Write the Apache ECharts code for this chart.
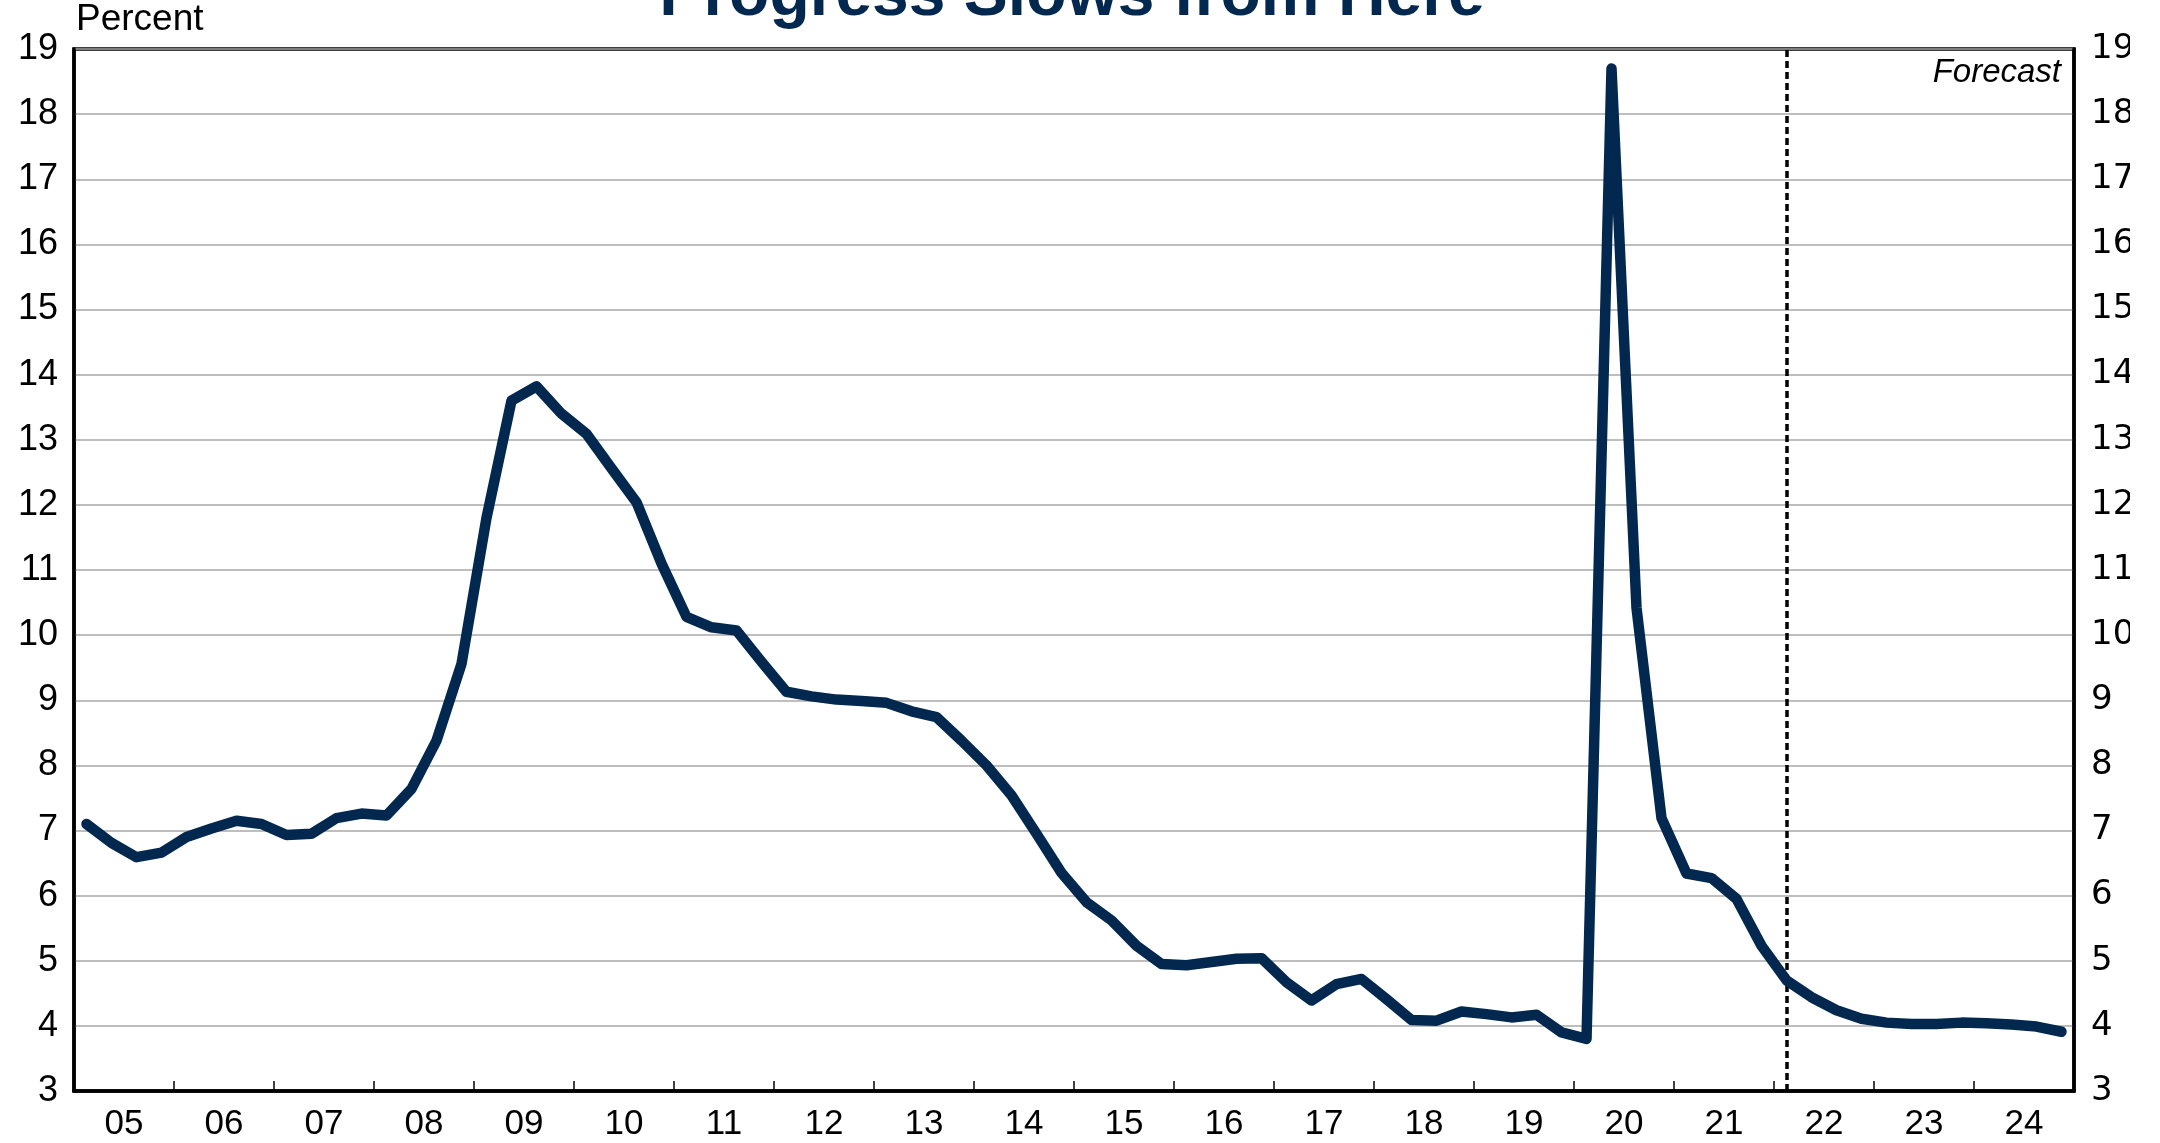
<!DOCTYPE html>
<html>
<head>
<meta charset="utf-8">
<script src="https://cdn.jsdelivr.net/npm/echarts/dist/echarts.min.js"></script>
<style>
  html, body { margin: 0; padding: 0; background: #ffffff; }
  #chart { width: 2130px; height: 1143px; }
</style>
</head>
<body>
<div id="chart"></div>
<script>
// Year tick labels along the bottom axis (one per calendar year)
const yearLabels = ['05','06','07','08','09','10','11','12','13','14',
                    '15','16','17','18','19','20','21','22','23','24'];

// Quarterly rate, percent, 2005Q1 .. 2024Q4
const rate = [
  7.10, 6.81, 6.59, 6.66,   6.90, 7.03, 7.15, 7.10,   6.93, 6.95, 7.19, 7.26,
  7.23, 7.64, 8.38, 9.56,   11.80, 13.60, 13.82, 13.40,
  13.09, 12.56, 12.04, 11.10,   10.28, 10.12, 10.07, 9.59,
  9.13, 9.06, 9.01, 8.99,   8.96, 8.83, 8.74, 8.38,   8.00, 7.54, 6.95, 6.35,
  5.90, 5.62, 5.23, 4.95,   4.93, 4.98, 5.03, 5.04,   4.67, 4.39, 4.64, 4.72,
  4.41, 4.09, 4.08, 4.22,   4.18, 4.13, 4.17, 3.90,
  3.80, 18.70, 10.42, 7.19,   6.34, 6.27, 5.95, 5.23,
  4.70, 4.44, 4.24, 4.11,   4.05, 4.03, 4.03, 4.05,   4.04, 4.02, 3.99, 3.91
];

// Value axis range and step
const yMin = 3, yMax = 19, yStep = 1;

// First projected quarter
const forecastStart = '22Q1';

const quarters = yearLabels.flatMap(y => ['Q1','Q2','Q3','Q4'].map(q => y + q));

const navy = '#03284f';
const leftFont = '"Liberation Sans", Arial, sans-serif';
const rightFont = '"DejaVu Sans", Verdana, sans-serif';

const chart = echarts.init(document.getElementById('chart'), null, { renderer: 'canvas' });

chart.setOption({
  backgroundColor: '#ffffff',
  animation: false,
  grid: {
    left: 74, top: 49, width: 2000, height: 1042,
    outerBoundsMode: 'none',
    containLabel: false,
    show: true, borderColor: '#000000', borderWidth: 3.5,
    backgroundColor: 'transparent'
  },
  xAxis: [
    {
      type: 'category', data: quarters, boundaryGap: true,
      show: false
    },
    {
      type: 'category', data: yearLabels, boundaryGap: true, position: 'bottom',
      axisLine: { show: true, lineStyle: { color: '#000000', width: 3.5 } },
      axisTick: { show: true, inside: true, length: 10, lineStyle: { color: '#000000', width: 1.5 } },
      axisLabel: { show: true, margin: 16, color: '#000000', fontSize: 35, fontFamily: leftFont },
      splitLine: { show: false }
    }
  ],
  yAxis: [
    {
      type: 'value', min: yMin, max: yMax, interval: yStep, position: 'left',
      axisLine: { show: true, lineStyle: { color: '#000000', width: 3.5 } },
      axisTick: { show: false },
      axisLabel: { margin: 16, color: '#000000', fontSize: 36, fontFamily: leftFont },
      splitLine: { show: true, lineStyle: { color: '#a8a8a8', width: 1.5 } }
    },
    {
      type: 'value', min: yMin, max: yMax, interval: yStep, position: 'right',
      axisLine: { show: true, lineStyle: { color: '#000000', width: 3.5 } },
      axisTick: { show: false },
      axisLabel: { margin: 17, color: '#000000', fontSize: 34, fontFamily: rightFont },
      splitLine: { show: false }
    }
  ],
  series: [
    {
      type: 'line',
      xAxisIndex: 0, yAxisIndex: 0,
      data: rate,
      symbol: 'none',
      smooth: false,
      lineStyle: { color: navy, width: 10.5, cap: 'round', join: 'round' },
      z: 3,
      markLine: {
        silent: true,
        symbol: ['none', 'none'],
        label: { show: false },
        lineStyle: { color: '#000000', width: 3.5, type: [7, 4] },
        data: [{ xAxis: forecastStart }],
        z: 2
      }
    }
  ],
  graphic: [
    {
      type: 'text', x: 1072, y: -3, z: 10,
      style: {
        text: 'Progress Slows from Here',
        font: 'bold 66px "Liberation Sans", Arial, sans-serif',
        fill: navy, textAlign: 'center', textVerticalAlign: 'middle'
      }
    },
    {
      type: 'text', x: 76, y: 20, z: 10,
      style: {
        text: 'Percent',
        font: '37px "Liberation Sans", Arial, sans-serif',
        fill: '#000000', textAlign: 'left', textVerticalAlign: 'middle'
      }
    },
    {
      type: 'text', x: 2061, y: 73, z: 10,
      style: {
        text: 'Forecast',
        font: 'italic 33px "Liberation Sans", Arial, sans-serif',
        fill: '#000000', textAlign: 'right', textVerticalAlign: 'middle'
      }
    }
  ]
});
</script>
</body>
</html>
